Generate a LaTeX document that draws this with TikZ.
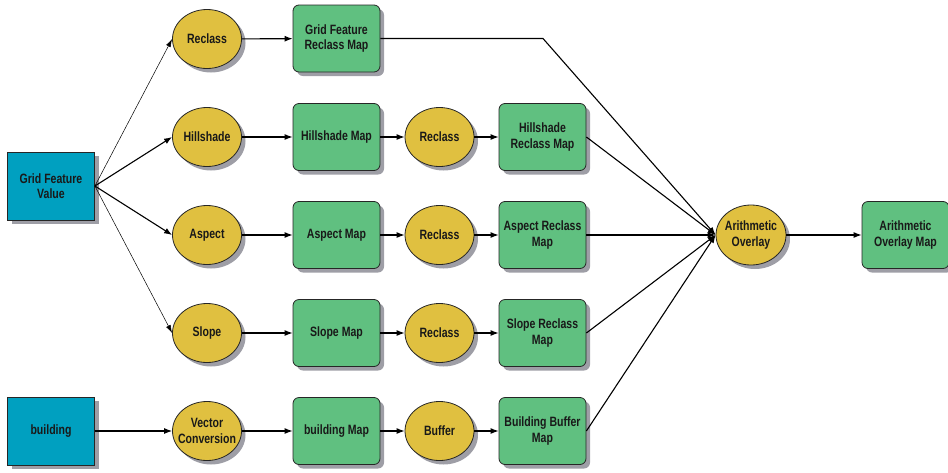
\documentclass[tikz,border=0pt]{standalone}
\usepackage{fontspec}
\setmainfont[FakeStretch=0.78]{Liberation Sans}
\usetikzlibrary{shapes.geometric,shadows,arrows.meta}
\definecolor{srcblue}{RGB}{0,160,192}
\definecolor{toolyellow}{RGB}{224,192,64}
\definecolor{mapgreen}{RGB}{96,192,128}
\definecolor{shadowgray}{RGB}{158,158,166}
\begin{document}
\begin{tikzpicture}[x=1pt,y=-1pt,
  base/.style={draw=black!85, line width=0.8pt, font=\fontsize{13.5}{15.5}\selectfont\bfseries,
    align=center, text=black!90, inner sep=0pt,
    drop shadow={shadow xshift=4pt, shadow yshift=-4pt, fill=shadowgray, opacity=1}},
  srcbox/.style={base, rectangle, fill=srcblue, minimum width=87pt, minimum height=68pt},
  tool/.style={base, ellipse, fill=toolyellow, minimum width=69pt, minimum height=59pt, inner xsep=-8pt},
  mapbox/.style={base, rectangle, rounded corners=6pt, fill=mapgreen, minimum width=87pt, minimum height=67pt},
  conn/.style={-{Latex[length=8pt,width=6pt]}, line width=1.1pt},
  thinconn/.style={-{Latex[length=8pt,width=5pt]}, line width=0.5pt}]
\useasboundingbox (0,0) rectangle (948,472);

% sources
\node[srcbox] (gfv) at (51,186) {Grid Feature\\Value};
\node[srcbox] (bld) at (51,431) {building};

% column 1 tools
\node[tool] (rc1) at (207,39) {Reclass};
\node[tool] (hs)  at (207,137) {Hillshade};
\node[tool] (asp) at (207,235) {Aspect};
\node[tool] (slp) at (207,333) {Slope};
\node[tool] (vc)  at (207,431) {Vector\\Conversion};

% column 1 maps
\node[mapbox] (gfrm) at (336.5,38.5) {Grid Feature\\Reclass Map};
\node[mapbox] (hsm)  at (336.5,137) {Hillshade Map};
\node[mapbox] (aspm) at (336.5,235) {Aspect Map};
\node[mapbox] (slpm) at (336.5,333) {Slope Map};
\node[mapbox] (bldm) at (336.5,431) {building Map};

% column 2 tools
\node[tool] (rc2) at (439.5,137) {Reclass};
\node[tool] (rc3) at (439.5,235) {Reclass};
\node[tool] (rc4) at (439.5,333) {Reclass};
\node[tool] (buf) at (439.5,431) {Buffer};

% column 2 maps
\node[mapbox] (hsrm)  at (542.5,137) {Hillshade\\Reclass Map};
\node[mapbox] (asprm) at (542.5,235) {Aspect Reclass\\Map};
\node[mapbox] (slprm) at (542.5,333) {Slope Reclass\\Map};
\node[mapbox] (bbm)   at (542.5,431) {Building Buffer\\Map};

% overlay
\node[tool, minimum width=70pt, minimum height=60pt] (ao) at (751,235) {Arithmetic\\Overlay};
\node[mapbox] (aom) at (905.5,235) {Arithmetic\\Overlay Map};

\coordinate (bend) at (543,38.5);

% connectors from Grid Feature Value
\draw[thinconn] (gfv.east) -- (rc1.west);
\draw[conn] (gfv.east) -- (hs.west);
\draw[conn] (gfv.east) -- (asp.west);
\draw[thinconn] (gfv.east) -- (slp.west);
\draw[conn] (bld.east) -- (vc.west);

% rows
\draw[conn] (rc1) -- (gfrm);
\draw[conn] (hs) -- (hsm);
\draw[conn] (asp) -- (aspm);
\draw[conn] (slp) -- (slpm);
\draw[conn] (vc) -- (bldm);

\draw[conn] (hsm) -- (rc2);
\draw[conn] (aspm) -- (rc3);
\draw[conn] (slpm) -- (rc4);
\draw[conn] (bldm) -- (buf);

\draw[conn] (rc2) -- (hsrm);
\draw[conn] (rc3) -- (asprm);
\draw[conn] (rc4) -- (slprm);
\draw[conn] (buf) -- (bbm);

% to overlay
\draw[conn] (gfrm.east) -- (bend) -- (ao.west);
\draw[conn] (hsrm.east) -- (ao.west);
\draw[conn] (asprm.east) -- (ao.west);
\draw[conn] (slprm.east) -- (ao.west);
\draw[conn] (bbm.east) -- (ao.west);

\draw[conn] (ao) -- (aom);
\end{tikzpicture}
\end{document}
